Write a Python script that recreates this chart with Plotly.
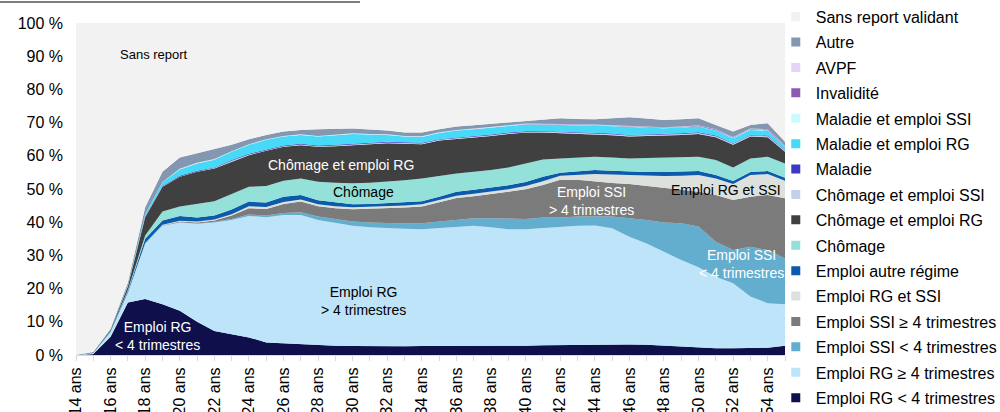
import plotly.graph_objects as go
import numpy as np

ages = list(range(14, 56))
tick_ages = list(range(14, 55, 2))
tick_labels = [f"{a} ans" for a in tick_ages]
y_ticks = list(range(0, 101, 10))
y_labels = [f"{v} %" for v in y_ticks]

# Series values (% of generation), ages 14..55
emploi_rg_lt4 = [0, 0.3, 5.5, 15.8, 16.9, 15.3, 13.3, 10.0, 7.2, 6.3, 5.3, 3.8, 3.5, 3.2, 3.0, 2.8, 2.7, 2.6, 2.6, 2.6, 2.7, 2.7, 2.6, 2.6, 2.6, 2.7, 2.8, 2.9, 3.0, 3.1, 3.2, 3.2, 3.2, 3.1, 2.8, 2.5, 2.2, 2.0, 2.0, 2.0, 2.2, 2.8]
emploi_rg_ge4 = [0, 0.3, 1.5, 3.0, 16.7, 23.6, 26.6, 29.5, 32.7, 34.4, 36.6, 37.7, 38.7, 39.0, 37.7, 37.1, 36.2, 35.9, 35.6, 35.4, 35.2, 35.6, 36.1, 36.3, 35.9, 35.2, 35.1, 35.4, 35.7, 35.8, 35.8, 35.0, 32.4, 30.5, 28.3, 26.1, 24.2, 21.6, 19.6, 15.6, 13.4, 12.5]
emploi_ssi_lt4 = [0, 0, 0, 0, 0, 0.1, 0.1, 0.1, 0.2, 0.3, 0.4, 0.5, 0.6, 0.8, 1.0, 1.1, 1.3, 1.4, 1.5, 1.6, 1.8, 1.9, 2.0, 2.3, 2.7, 3.1, 3.1, 3.1, 2.7, 2.8, 2.7, 3.5, 5.6, 7.1, 8.8, 11.1, 12.3, 10.5, 10.0, 15.0, 16.0, 13.8]
emploi_ssi_ge4 = [0, 0, 0, 0, 0.1, 0.1, 0.2, 0.3, 0.4, 1.0, 1.9, 2.0, 2.7, 3.2, 3.1, 3.2, 3.7, 4.1, 4.5, 4.8, 5.0, 5.8, 6.6, 6.6, 7.3, 8.0, 8.9, 9.8, 11.4, 11.1, 10.5, 10.1, 10.3, 10.3, 10.6, 10.1, 10.5, 14.1, 15.1, 15.1, 16.6, 18.1]
emploi_rg_ssi = [0, 0, 0, 0, 0, 0.1, 0.2, 0.3, 0.3, 0.4, 0.6, 0.6, 0.6, 0.6, 0.6, 0.6, 0.6, 0.6, 0.6, 0.6, 0.7, 0.7, 0.7, 0.8, 0.8, 0.9, 1.0, 1.1, 1.2, 1.5, 2.3, 2.6, 2.7, 3.0, 3.4, 4.2, 5.0, 5.0, 4.8, 6.5, 6.3, 5.3]
emploi_autre = [0, 0.1, 0.2, 0.5, 1.3, 1.3, 1.5, 1.2, 1.2, 1.4, 1.4, 1.3, 1.6, 1.4, 1.2, 1.2, 0.9, 0.9, 0.9, 0.9, 0.9, 1.0, 1.2, 1.2, 1.1, 1.2, 1.2, 1.4, 0.9, 1.0, 1.2, 1.1, 1.0, 1.1, 1.2, 1.2, 1.2, 1.0, 0.9, 0.9, 0.9, 0.9]
chomage = [0, 0, 0.1, 0.3, 1.0, 2.7, 2.8, 4.1, 4.3, 4.7, 4.5, 5.0, 4.8, 5.0, 5.6, 5.9, 6.3, 6.4, 6.5, 6.7, 6.9, 6.3, 5.5, 5.4, 5.3, 5.4, 5.6, 5.2, 4.3, 4.2, 4.0, 4.0, 4.0, 4.2, 4.3, 4.4, 4.3, 4.5, 4.1, 4.1, 4.3, 4.3]
chomage_rg = [0, 0.1, 0.3, 1.0, 5.5, 7.5, 9.0, 9.7, 9.9, 9.8, 9.5, 10.6, 10.2, 10.0, 10.5, 11.0, 11.6, 11.6, 11.6, 11.0, 10.3, 10.6, 10.3, 10.4, 10.3, 10.1, 9.3, 8.1, 7.6, 7.2, 6.9, 6.7, 6.6, 6.6, 6.6, 6.7, 6.9, 6.9, 6.8, 6.6, 5.9, 3.5]
chomage_ssi = [0, 0, 0, 0, 0.1, 0.1, 0.1, 0.1, 0.1, 0.2, 0.2, 0.2, 0.2, 0.2, 0.2, 0.2, 0.2, 0.2, 0.2, 0.2, 0.2, 0.2, 0.2, 0.2, 0.2, 0.2, 0.2, 0.3, 0.3, 0.3, 0.3, 0.3, 0.3, 0.3, 0.3, 0.3, 0.3, 0.3, 0.3, 0.3, 0.3, 0.3]
maladie = [0, 0, 0, 0.1, 0.1, 0.2, 0.2, 0.2, 0.2, 0.2, 0.2, 0.2, 0.2, 0.2, 0.2, 0.2, 0.2, 0.2, 0.2, 0.2, 0.2, 0.2, 0.2, 0.2, 0.2, 0.2, 0.2, 0.2, 0.2, 0.2, 0.2, 0.2, 0.2, 0.2, 0.2, 0.2, 0.2, 0.2, 0.2, 0.2, 0.2, 0.2]
maladie_rg = [0, 0, 0.1, 0.3, 0.8, 1.0, 1.9, 2.2, 2.3, 2.5, 2.7, 2.9, 2.7, 2.7, 2.7, 2.9, 2.9, 2.5, 2.1, 1.8, 1.8, 1.9, 2.2, 2.0, 2.2, 2.0, 2.0, 1.9, 2.0, 2.0, 2.0, 2.2, 2.3, 2.0, 1.8, 1.7, 1.7, 1.5, 1.5, 1.5, 1.5, 1.0]
maladie_ssi = [0, 0, 0, 0, 0, 0, 0.1, 0.1, 0.1, 0.1, 0.1, 0.1, 0.1, 0.1, 0.1, 0.1, 0.1, 0.1, 0.1, 0.1, 0.1, 0.1, 0.1, 0.1, 0.1, 0.1, 0.1, 0.1, 0.1, 0.1, 0.1, 0.1, 0.1, 0.1, 0.1, 0.1, 0.1, 0.1, 0.1, 0.1, 0.1, 0.1]
invalidite = [0, 0, 0, 0, 0, 0, 0, 0, 0, 0, 0, 0, 0, 0, 0, 0, 0, 0, 0, 0, 0, 0, 0, 0, 0, 0, 0.1, 0.1, 0.1, 0.1, 0.1, 0.1, 0.1, 0.1, 0.1, 0.1, 0.2, 0.2, 0.2, 0.2, 0.2, 0.2]
avpf = [0, 0, 0, 0, 0, 0.1, 0.1, 0.1, 0.1, 0.1, 0.1, 0.1, 0.1, 0.1, 0.1, 0.1, 0.1, 0.1, 0.1, 0.1, 0.1, 0.1, 0.1, 0.1, 0.1, 0.1, 0.1, 0.1, 0.1, 0.1, 0.1, 0.1, 0.1, 0.1, 0.1, 0.1, 0.1, 0.1, 0.1, 0.1, 0.1, 0.1]
autre = [0, 0.1, 0.2, 0.8, 2.0, 3.1, 3.4, 2.8, 3.0, 1.9, 1.5, 1.3, 1.3, 1.3, 2.0, 1.6, 1.4, 1.3, 1.1, 1.0, 1.1, 0.9, 1.0, 1.0, 0.8, 0.8, 0.8, 1.1, 1.7, 1.6, 1.6, 2.1, 2.7, 2.5, 2.2, 2.2, 2.1, 1.3, 1.6, 1.1, 1.8, 1.1]

# bottom -> top
series = [
    ("Emploi RG &lt; 4 trimestres", emploi_rg_lt4, "#0f0f4b"),
    ("Emploi RG ≥ 4 trimestres", emploi_rg_ge4, "#bde4f9"),
    ("Emploi SSI &lt; 4 trimestres", emploi_ssi_lt4, "#63aecf"),
    ("Emploi SSI ≥ 4 trimestres", emploi_ssi_ge4, "#7b7b7b"),
    ("Emploi RG et SSI", emploi_rg_ssi, "#dde1dd"),
    ("Emploi autre régime", emploi_autre, "#0b5aab"),
    ("Chômage", chomage, "#93e1d8"),
    ("Chômage et emploi RG", chomage_rg, "#404040"),
    ("Chômage et emploi SSI", chomage_ssi, "#c3cfec"),
    ("Maladie", maladie, "#3a3ac2"),
    ("Maladie et emploi RG", maladie_rg, "#46d9f8"),
    ("Maladie et emploi SSI", maladie_ssi, "#ccfbff"),
    ("Invalidité", invalidite, "#8e5ab1"),
    ("AVPF", avpf, "#e4d4f7"),
    ("Autre", autre, "#8497b1"),
]
total = np.sum([np.array(s[1]) for s in series], axis=0)
sans_report = list(np.round(100 - total, 2))
series.append(("Sans report validant", sans_report, "#f2f2f2"))

fig = go.Figure()
for name, vals, col in series:
    fig.add_trace(go.Scatter(
        x=ages, y=vals, mode="lines", stackgroup="one",
        line=dict(width=0, color=col), fillcolor=col,
        showlegend=False, hoverinfo="skip", name=name))

# legend entries (top to bottom)
for name, vals, col in reversed(series):
    fig.add_trace(go.Scatter(
        x=[None], y=[None], mode="markers", name=name, legendgroup=name,
        marker=dict(symbol="square", size=9, color=col)))

font = "Liberation Sans, Arial, sans-serif"
fig.update_layout(
    width=1000, height=412,
    margin=dict(l=76, r=215, t=23, b=57, autoexpand=False),
    paper_bgcolor="white", plot_bgcolor="#f2f2f2",
    font=dict(family=font, size=16, color="black"),
    showlegend=True,
    legend=dict(x=0.987, xanchor="left", y=1.07, yanchor="top",
                maxheight=412,
                font=dict(family=font, size=16, color="black"),
                traceorder="grouped", tracegroupgap=1.6,
                bgcolor="rgba(0,0,0,0)", itemsizing="trace"),
    xaxis=dict(range=[14, 55], tickvals=tick_ages, ticktext=tick_labels,
               tickangle=-90, showgrid=False, zeroline=False,
               showline=True, linecolor="#d9d9d9", linewidth=1,
               ticks="outside", ticklen=5, tickcolor="#d9d9d9",
               ticklabelstandoff=0,
               minor=dict(dtick=1, tick0=14, ticks="outside", ticklen=5, tickcolor="#d9d9d9"),
               tickfont=dict(family=font, size=16, color="black")),
    yaxis=dict(range=[0, 100], tickvals=y_ticks, ticktext=y_labels,
               showgrid=False, zeroline=False, showline=False,
               ticks="", ticklabelstandoff=12,
               tickfont=dict(family=font, size=16, color="black")),
)

def ann(x, y, text, color, size=14):
    fig.add_annotation(x=x, y=y, xref="x", yref="y", text=text, showarrow=False,
                       font=dict(family=font, size=size, color=color), align="center")

ann(18.5, 90.4, "Sans report", "black", 13)
ann(29.3, 57.2, "Chômage et emploi RG", "white")
ann(30.6, 49.1, "Chômage", "black")
ann(30.6, 16.3, "Emploi RG<br>&gt; 4 trimestres", "black")
ann(18.7, 5.7, "Emploi RG<br>&lt; 4 trimestres", "white")
ann(43.8, 46.4, "Emploi SSI<br>&gt; 4 trimestres", "white")
ann(51.6, 49.7, "Emploi RG et SSI", "black")
ann(52.5, 27.4, "Emploi SSI<br>&lt; 4 trimestres", "white")

# cut-off caption underline at the very top
fig.add_shape(type="line", xref="paper", yref="paper",
              x0=-76/709, x1=(360-76)/709, y0=1+21/332, y1=1+21/332,
              line=dict(color="#555555", width=1.5))

fig.write_html("out.html", config={"displayModeBar": False},
               post_script="document.body.style.margin='0';document.body.style.overflow='hidden';")
